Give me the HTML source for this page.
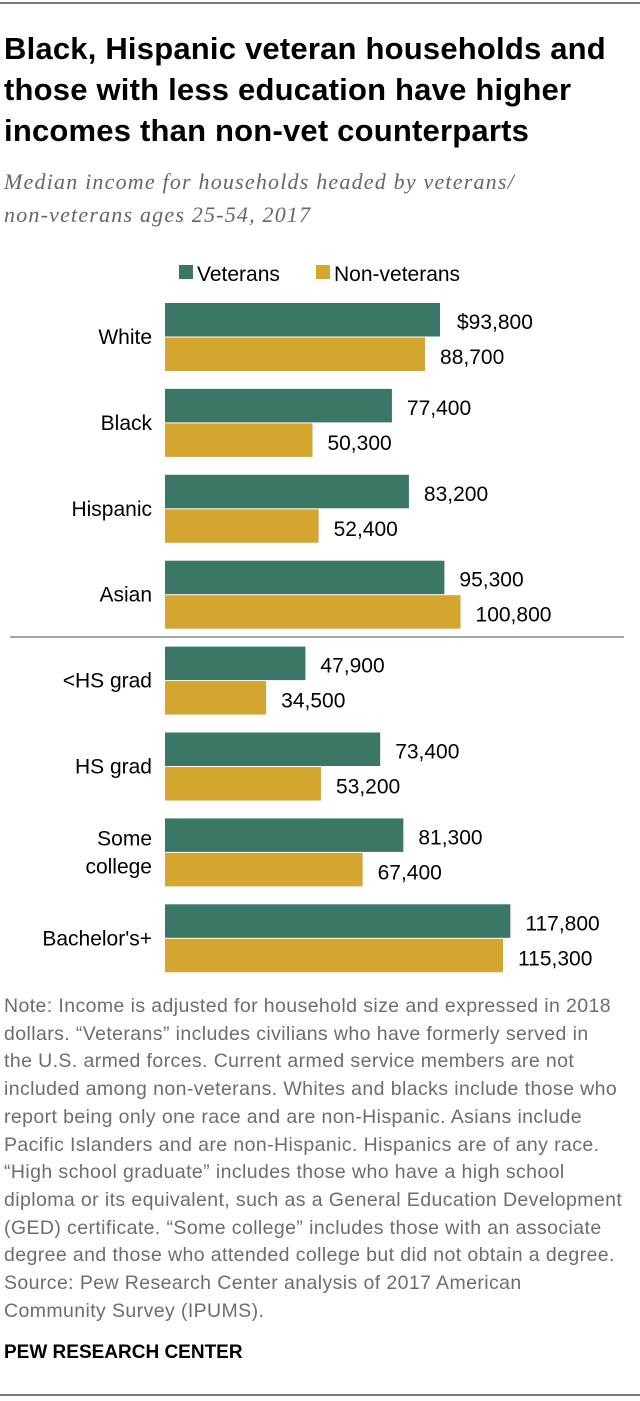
<!DOCTYPE html>
<html><head><meta charset="utf-8"><style>
body{margin:0;background:#fff;width:640px;height:1401px;overflow:hidden;font-family:"Liberation Sans",sans-serif;position:relative}
.t{position:absolute;left:4px;top:28px;font-size:31px;font-weight:bold;line-height:41px;color:#000;letter-spacing:0.2px;white-space:nowrap}
.sub{position:absolute;left:4px;top:165px;font-family:"Liberation Serif",serif;font-style:italic;font-size:22px;line-height:33px;color:#666;letter-spacing:1.2px;white-space:nowrap}
.note{position:absolute;left:4px;top:993px;font-size:19.5px;line-height:27.7px;color:#6d6d6d;white-space:nowrap;letter-spacing:0.4px}
.src{position:absolute;left:4px;top:1342px;font-size:19px;font-weight:bold;color:#000}
.rule{position:absolute;left:0;width:640px;height:2px;background:#7a7a7a}
</style></head><body>
<div class="rule" style="top:2px"></div>
<div class="t">Black, Hispanic veteran households and<br>those with less education have higher<br>incomes than non-vet counterparts</div>
<div class="sub">Median income for households headed by veterans/<br>non-veterans ages 25-54, 2017</div>
<svg id="c" width="640" height="990" style="position:absolute;left:0;top:0">
<rect x="179" y="265" width="14" height="14" fill="#3b7766"/>
<text x="197" y="281" font-size="21">Veterans</text>
<rect x="316" y="265" width="14" height="14" fill="#d4a52f"/>
<text x="334" y="281" font-size="21">Non-veterans</text>
<line x1="10" y1="637" x2="624" y2="637" stroke="#888" stroke-width="1.5"/>
</svg>
<div class="note">Note: Income is adjusted for household size and expressed in 2018<br>dollars. “Veterans” includes civilians who have formerly served in<br>the U.S. armed forces. Current armed service members are not<br>included among non-veterans. Whites and blacks include those who<br>report being only one race and are non-Hispanic. Asians include<br>Pacific Islanders and are non-Hispanic. Hispanics are of any race.<br>“High school graduate” includes those who have a high school<br>diploma or its equivalent, such as a General Education Development<br>(GED) certificate. “Some college” includes those with an associate<br>degree and those who attended college but did not obtain a degree.<br>Source: Pew Research Center analysis of 2017 American<br>Community Survey (IPUMS).</div>
<div class="src">PEW RESEARCH CENTER</div>
<div class="rule" style="top:1394px"></div>
<script>
const categories=[["White"],["Black"],["Hispanic"],["Asian"],["<HS grad"],["HS grad"],["Some","college"],["Bachelor's+"]];
const veterans=[93800,77400,83200,95300,47900,73400,81300,117800];
const nonVeterans=[88700,50300,52400,100800,34500,53200,67400,115300];
const svg=document.getElementById('c');
const NS='http://www.w3.org/2000/svg';
const x0=165, k=275/93800;
const xs=v=>v*k;
const yTop=i=>303+i*85.9;
const fmt=(v,d)=>(d?'$':'')+v.toLocaleString('en-US');
function mk(t,a){const e=document.createElementNS(NS,t);for(const n in a)e.setAttribute(n,a[n]);svg.appendChild(e);return e;}
categories.forEach((c,i)=>{
  const y=yTop(i);
  const b1=mk('rect',{x:x0,y:y,width:xs(veterans[i]),height:33.5,fill:'#3b7766'});
  
  
  const b2=mk('rect',{x:x0,y:y+34.5,width:xs(nonVeterans[i]),height:33.5,fill:'#d4a52f'});
  
  
  const t1=mk('text',{x:x0+xs(veterans[i])+(i===0?17:15),y:y+26,'font-size':21});
  t1.textContent=fmt(veterans[i],i===0);
  
  
  const t2=mk('text',{x:x0+xs(nonVeterans[i])+15,y:y+61,'font-size':21});
  t2.textContent=fmt(nonVeterans[i],false);
  
  
  const lb=mk('text',{x:152,'text-anchor':'end','font-size':21});
  
  
  c.forEach((s,j)=>{const ts=document.createElementNS(NS,'tspan');ts.setAttribute('x',152);ts.setAttribute('y',y+41+(j-(c.length-1)/2)*28);ts.textContent=s;lb.appendChild(ts);});
});
</script>
</body></html>
